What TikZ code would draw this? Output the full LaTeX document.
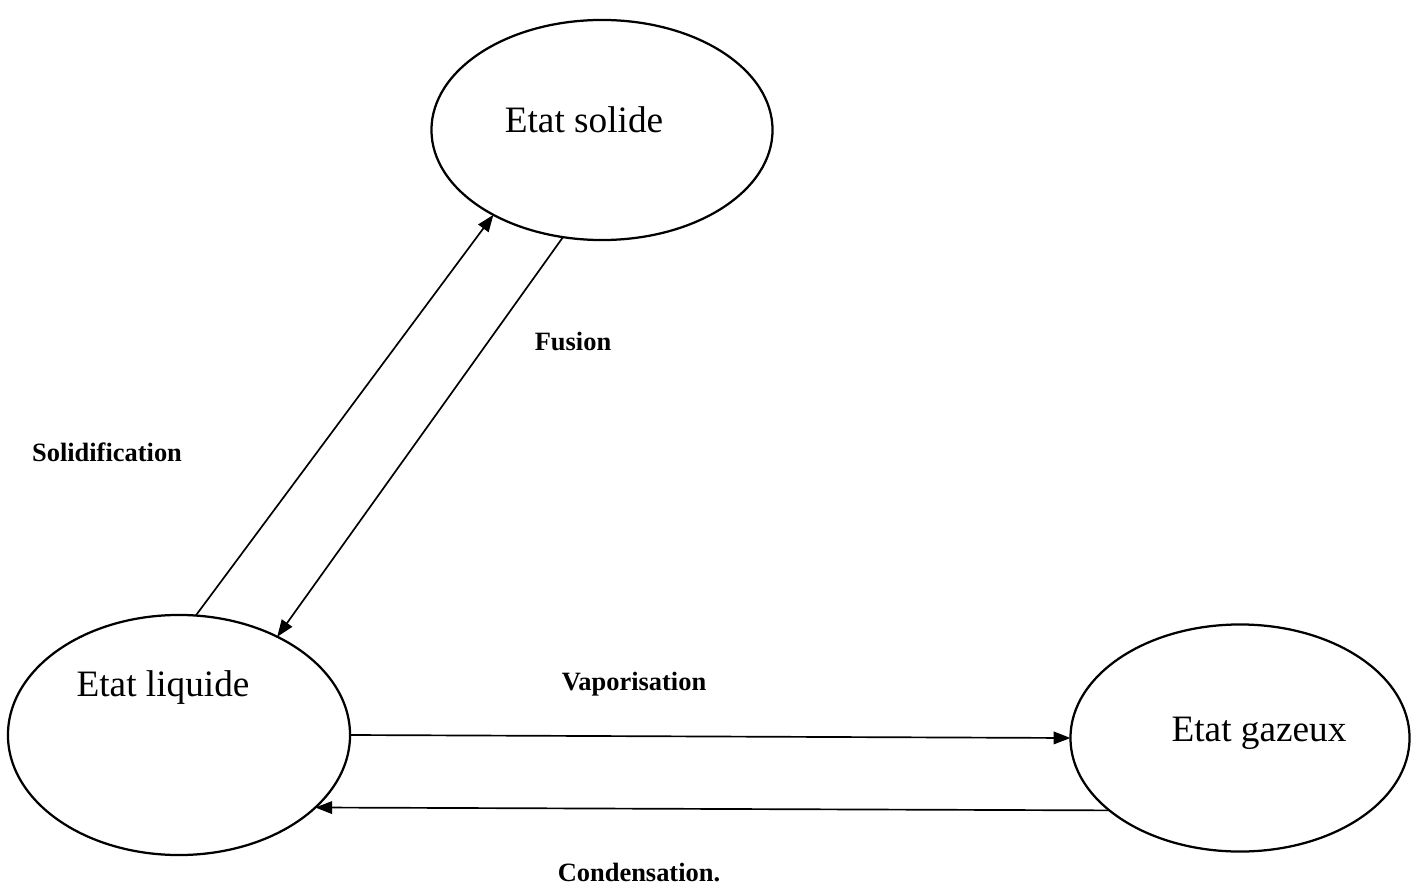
\documentclass[tikz,border=0pt]{standalone}
\usepackage{fontspec}
\setmainfont{Liberation Serif}
\usetikzlibrary{arrows.meta,positioning,shapes.geometric}

\begin{document}
\begin{tikzpicture}[
    x=0.025cm,
    y=-0.025cm,
    >={Triangle[length=12pt,width=9pt]},
    etat/.style={
        ellipse,
        draw,
        line width=1.6pt,
        inner sep=0pt,
        outer sep=0pt
    },
    nometat/.style={
        font=\fontsize{26.5}{31}\selectfont
    },
    fleche/.style={
        ->,
        line width=1.2pt
    },
    formule/.style={
        font=\fontsize{18.8}{22}\selectfont\bfseries
    }
]

\useasboundingbox (0,0) rectangle (1415,887);

% States
\node[etat, minimum width=8.525cm, minimum height=5.5cm] (sol) at (602,130) {};
\node[etat, minimum width=8.55cm, minimum height=6cm] (liq) at (179,735) {};
\node[etat, minimum width=8.475cm, minimum height=5.675cm] (gaz) at (1240,738) {};

% State names
\node[nometat] (tsol) at (584,120) {Etat solide};
\node[nometat] (tliq) at (163,688) {Etat liquide};
\node[nometat] (tgaz) at (1259,733) {Etat gazeux};

% Transitions
\draw[fleche] (liq.82) -- (sol.218);
\draw[fleche] (sol.250) -- (liq.45);
\draw[fleche] (liq.east) -- (gaz.west);
\draw[fleche] (gaz.209.6) -- (liq.-28.6);

% Transition labels
\node[formule] (lfus) at (573,341) {Fusion};
\node[formule] (lsol) at (107,452) {Solidification};
\node[formule] (lvap) at (634,684) {Vaporisation};
\node[formule] (lcon) at (639,873) {Condensation.};

\end{tikzpicture}
\end{document}
